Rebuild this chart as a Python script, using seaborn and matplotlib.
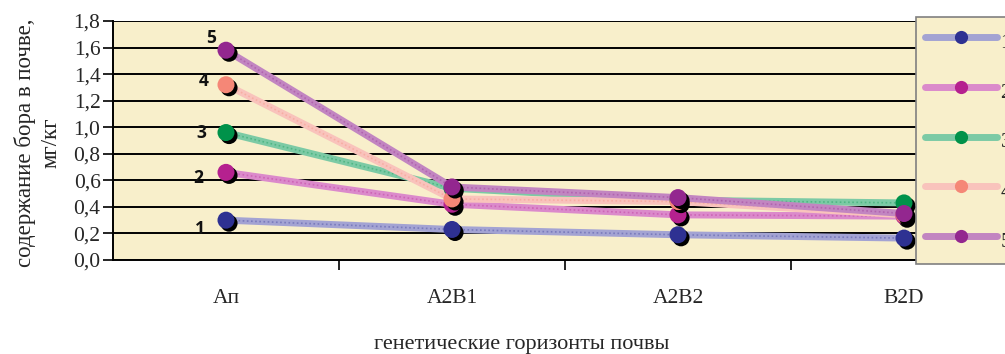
import numpy as np
import pandas as pd
import matplotlib
matplotlib.use("Agg")
import matplotlib.pyplot as plt
import matplotlib.patheffects as pe
from matplotlib.lines import Line2D
import seaborn as sns

# ---- data ----
horizons = ["Ап", "A2B1", "A2B2", "B2D"]
series_names = ["1", "2", "3", "4", "5"]
s1 = [0.30, 0.23, 0.19, 0.165]
s2 = [0.66, 0.42, 0.34, 0.33]
s3 = [0.96, 0.54, 0.45, 0.43]
s4 = [1.32, 0.46, 0.44, 0.34]
s5 = [1.58, 0.55, 0.47, 0.35]
yticks = [0.0, 0.2, 0.4, 0.6, 0.8, 1.0, 1.2, 1.4, 1.6, 1.8]
ylabel = "содержание бора в почве,\nмг/кг"
xlabel = "генетические горизонты почвы"

values = [s1, s2, s3, s4, s5]
marker_colors = ["#2E3192", "#B5218F", "#00924A", "#F58777", "#93278F"]
line_colors = ["#A3A3D3", "#DB8ACB", "#7CCAA5", "#F9C3BC", "#C285C1"]
label_offsets = [(-19, -6), (-20, -4), (-18, 0), (-16, 3), (-11, 9)]  # points

sns.set_theme(style="white")
plt.rcParams["font.family"] = ["Liberation Serif", "DejaVu Serif"]

fig = plt.figure(figsize=(10.05, 3.54), dpi=100)
fig.patch.set_facecolor("white")
ax = fig.add_axes([113 / 1005, 94 / 354, 904 / 1005, 239 / 354])
bg = "#F8EFCB"
ax.set_facecolor(bg)

df = pd.DataFrame({
    "horizon": horizons * len(series_names),
    "series": np.repeat(series_names, len(horizons)),
    "value": np.concatenate(values),
})

for i, name in enumerate(series_names):
    d = df[df["series"] == name]
    sns.lineplot(data=d, x="horizon", y="value", ax=ax, color=line_colors[i],
                 linewidth=5, zorder=3 + i * 0.1, legend=False,
                 solid_capstyle="butt")
    sns.lineplot(data=d, x="horizon", y="value", ax=ax, color=marker_colors[i],
                 linewidth=1.2, alpha=0.35, linestyle=(0, (1, 1.5)),
                 zorder=3.05 + i * 0.1, legend=False)

shadow = [pe.SimplePatchShadow(offset=(2.2, -2.2), shadow_rgbFace="black", alpha=1.0),
          pe.Normal()]
for i, name in enumerate(series_names):
    d = df[df["series"] == name]
    sns.scatterplot(data=d, x="horizon", y="value", ax=ax,
                    color=marker_colors[i], s=150, edgecolor="none",
                    zorder=5 + i * 0.1, legend=False)
    ax.collections[-1].set_path_effects(shadow)
    ax.annotate(name, xy=(0, values[i][0]), xytext=label_offsets[i],
                textcoords="offset points", ha="center", va="center",
                fontsize=12.5, fontweight="bold", family=["Open Sans", "DejaVu Sans"],
                color="#111111", zorder=7)

ax.set_xlim(-0.5, 3.5)
ax.set_ylim(0, 1.8)
ax.set_yticks(yticks)
ax.set_yticklabels([f"{t:.1f}".replace(".", ",") for t in yticks], fontsize=15.5)
ax.yaxis.grid(True, color="black", linewidth=1.4)
ax.set_axisbelow(True)
ax.xaxis.grid(False)

ax.set_xticks([0.5, 1.5, 2.5])
ax.set_xticklabels([])
ax.set_xticks(range(len(horizons)), minor=True)
ax.set_xticklabels(horizons, minor=True, fontsize=15.5)
ax.tick_params(axis="x", which="major", length=7, width=1.2, color="black",
               direction="out", bottom=True)
ax.tick_params(axis="x", which="minor", length=0, pad=21)
ax.tick_params(axis="y", which="major", length=7, width=1.2, color="black",
               direction="out", left=True, pad=2)

for side in ["top", "right"]:
    ax.spines[side].set_visible(False)
for side in ["left", "bottom"]:
    ax.spines[side].set_color("black")
    ax.spines[side].set_linewidth(1.4)

ax.set_ylabel(ylabel, fontsize=16.5, linespacing=1.3)
ax.yaxis.set_label_coords(-0.057, 0.49)
ax.set_xlabel(xlabel, fontsize=16)
ax.xaxis.set_label_coords(0.452, -0.315)

handles = [Line2D([0], [0], color=line_colors[i], linewidth=5, marker="o",
                  markersize=9.5, markerfacecolor=marker_colors[i],
                  markeredgecolor="none") for i in range(5)]
leg = fig.legend(handles, series_names, loc="upper left",
                 bbox_to_anchor=(916 / 1005, 1 - 17 / 354),
                 bbox_transform=fig.transFigure, frameon=True, fancybox=False,
                 facecolor=bg, edgecolor="#808080", framealpha=1,
                 fontsize=15, handlelength=3.46, handleheight=1.79,
                 labelspacing=0.98, handletextpad=0.15, borderpad=0.45,
                 borderaxespad=0, numpoints=1)
leg.get_frame().set_linewidth(1.2)

fig.savefig("out.png", dpi=100, facecolor="white")
